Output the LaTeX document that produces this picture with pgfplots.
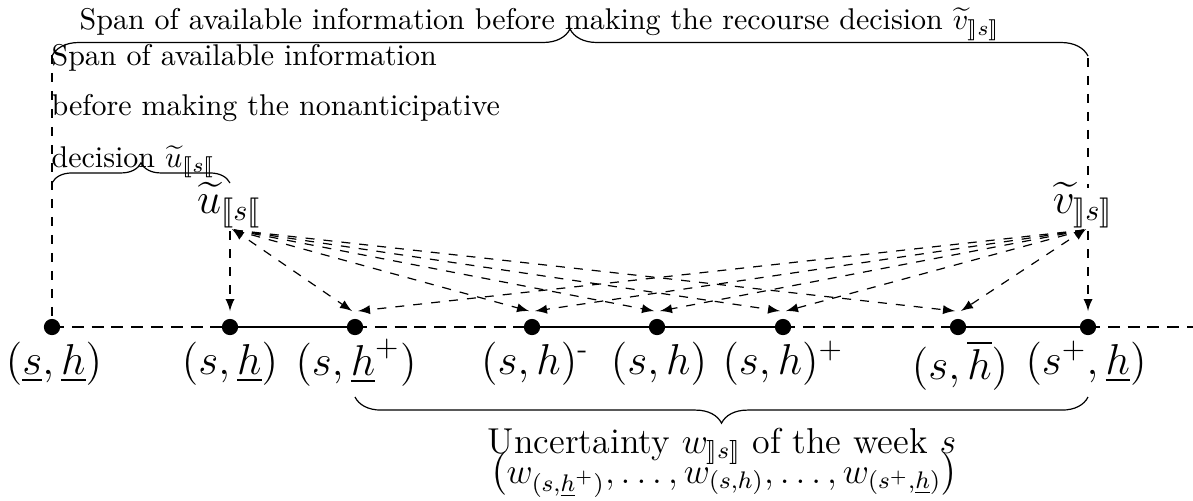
\documentclass[border=0pt]{standalone}
\usepackage{pgfplots}
\pgfplotsset{compat=1.18}
\usepackage{amsmath}
\usepackage{stmaryrd}
\usetikzlibrary{decorations.pathreplacing,arrows}
\begin{document}
\begin{tikzpicture}
\begin{axis}[name=ax, width=397.7pt, height=166.7pt, scale only axis, hide axis,
  xmin=0, xmax=1193, ymin=0, ymax=500, y dir=reverse, clip=false]
% main timeline
\addplot[black, line width=0.9pt, dash pattern=on 4pt off 2.6pt] coordinates {(52,327) (230,327)};
\addplot[black, line width=0.9pt] coordinates {(230,327) (355,327)};
\addplot[black, line width=0.9pt, dash pattern=on 4pt off 2.6pt] coordinates {(355,327) (532,327)};
\addplot[black, line width=0.9pt] coordinates {(532,327) (783,327)};
\addplot[black, line width=0.9pt, dash pattern=on 4pt off 2.6pt] coordinates {(783,327) (958,327)};
\addplot[black, line width=0.9pt] coordinates {(958,327) (1088,327)};
\addplot[black, line width=0.9pt, dash pattern=on 4pt off 2.6pt] coordinates {(1088,327) (1193,327)};
\addplot[black, only marks, mark=*, mark size=2.5pt] coordinates {(52,327) (230,327) (355,327) (532,327) (657,327) (783,327) (958,327) (1088,327)};
% vertical dashed guides
\addplot[black, dashed, line width=0.4pt] coordinates {(52,55) (52,322)};
\addplot[black, dashed, line width=0.4pt] coordinates {(1088,58) (1088,188)};
% arrows from u
\addplot[black, dashed, -latex, line width=0.4pt] coordinates {(230,231) (230,311)};
\addplot[black, dashed, -latex, line width=0.4pt] coordinates {(234,230) (352,311)};
\addplot[black, dashed, -latex, line width=0.4pt] coordinates {(234,230) (529,311)};
\addplot[black, dashed, -latex, line width=0.4pt] coordinates {(234,230) (654,311)};
\addplot[black, dashed, -latex, line width=0.4pt] coordinates {(234,230) (780,311)};
\addplot[black, dashed, -latex, line width=0.4pt] coordinates {(234,230) (955,311)};
\addplot[black, -latex, line width=0.4pt] coordinates {(242,236) (232,229)};
% arrows from v
\addplot[black, dashed, -latex, line width=0.4pt] coordinates {(1088,231) (1088,311)};
\addplot[black, dashed, -latex, line width=0.4pt] coordinates {(1084,230) (961,311)};
\addplot[black, dashed, -latex, line width=0.4pt] coordinates {(1084,230) (786,311)};
\addplot[black, dashed, -latex, line width=0.4pt] coordinates {(1084,230) (660,311)};
\addplot[black, dashed, -latex, line width=0.4pt] coordinates {(1084,230) (535,311)};
\addplot[black, dashed, -latex, line width=0.4pt] coordinates {(1084,230) (358,311)};
\addplot[black, -latex, line width=0.4pt] coordinates {(1076,236) (1086,229)};
% braces
\draw[decorate, decoration={brace, amplitude=9pt}] (axis cs:52,56) -- (axis cs:1088,56);
\draw[decorate, decoration={brace, amplitude=6.7pt}] (axis cs:52,183) -- (axis cs:230,183);
\draw[decorate, decoration={brace, amplitude=8.7pt}] (axis cs:1088,397) -- (axis cs:355,397);
% texts
\node[anchor=base, inner sep=0pt] at (axis cs:540,30) {Span of available information before making the recourse decision $\widetilde{v}_{\rrbracket s\rrbracket}$};
\node[anchor=base west, inner sep=0pt] at (axis cs:51,65) {Span of available information};
\node[anchor=base west, inner sep=0pt] at (axis cs:51,115) {before making the nonanticipative};
\node[anchor=base west, inner sep=0pt] at (axis cs:51,167) {decision $\widetilde{u}_{\llbracket s\llbracket}$};
\node[anchor=base, inner sep=0pt] at (axis cs:229,213) {\Large $\widetilde{u}_{\llbracket s\llbracket}$};
\node[anchor=base, inner sep=0pt] at (axis cs:1083,213) {\Large $\widetilde{v}_{\rrbracket s\rrbracket}$};
% point labels
\node[anchor=base, inner sep=0pt] at (axis cs:54,374) {\Large $(\underline{s},\underline{h})$};
\node[anchor=base, inner sep=0pt] at (axis cs:230,374) {\Large $(s,\underline{h})$};
\node[anchor=base, inner sep=0pt] at (axis cs:356,375) {\Large $(s,\underline{h}^+)$};
\node[anchor=base, inner sep=0pt] at (axis cs:535,374) {\Large $(s,h)$\textsuperscript{-}};
\node[anchor=base, inner sep=0pt] at (axis cs:659,374) {\Large $(s,h)$};
\node[anchor=base, inner sep=0pt] at (axis cs:783,374) {\Large $(s,h)^+$};
\node[anchor=base, inner sep=0pt] at (axis cs:960,379) {\Large $(s,\overline{h})$};
\node[anchor=base, inner sep=0pt] at (axis cs:1086,374) {\Large $(s^+,\underline{h})$};
% uncertainty text
\node[anchor=base, inner sep=0pt] at (axis cs:722,453) {\large Uncertainty $w_{\rrbracket s\rrbracket}$ of the week $s$};
\node[anchor=base, inner sep=0pt] at (axis cs:724,483) {\large $\big(w_{(s,\underline{h}^+)},\dots,w_{(s,h)},\dots,w_{(s^+,\underline{h})}\big)$};
\end{axis}
\pgfresetboundingbox
\path (ax.south west) rectangle (ax.north east);
\end{tikzpicture}
\end{document}
